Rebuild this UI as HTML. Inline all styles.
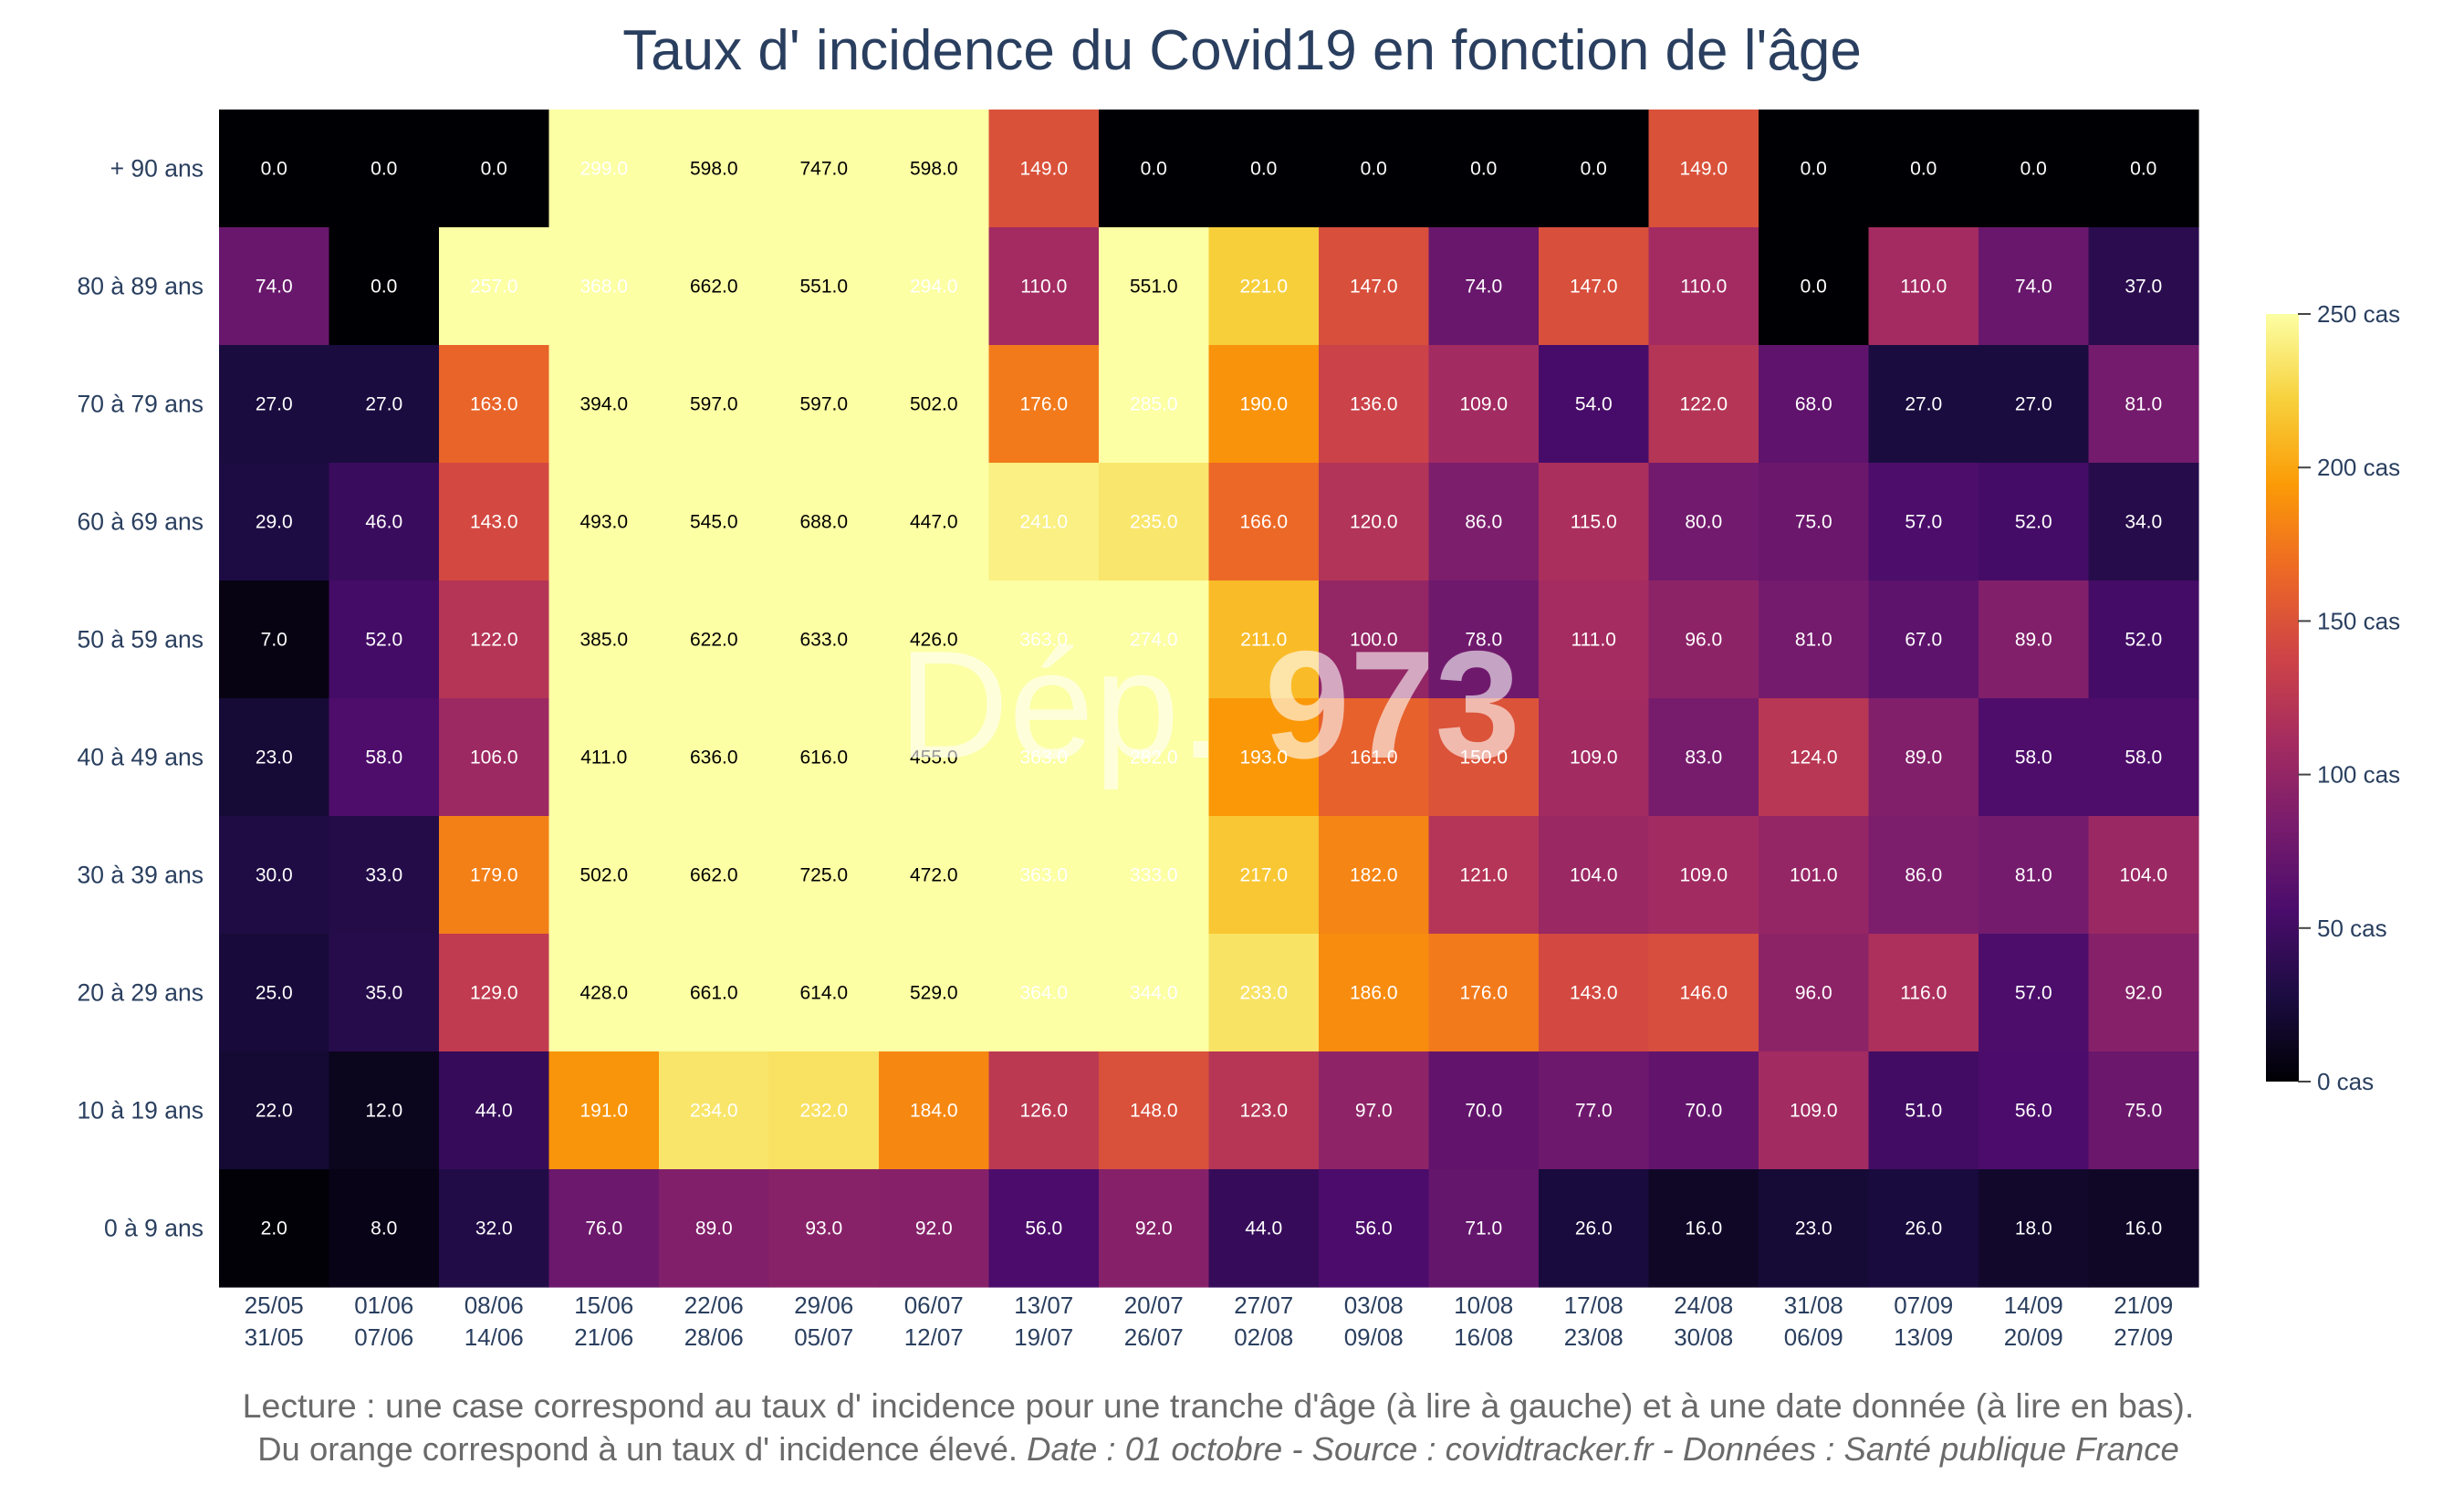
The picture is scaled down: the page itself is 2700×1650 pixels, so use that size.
<!DOCTYPE html>
<html><head><meta charset="utf-8">
<style>
html,body{margin:0;padding:0;background:#fff;}
svg{display:block;font-family:"Liberation Sans","DejaVu Sans",sans-serif;}
</style></head>
<body>
<svg id="chart" width="2700" height="1650" viewBox="0 0 2700 1650" xmlns="http://www.w3.org/2000/svg">
<defs>
<linearGradient id="cbgrad" x1="0" y1="1" x2="0" y2="0">
<stop offset="0" stop-color="#000004"/><stop offset="0.111" stop-color="#1b0c41"/><stop offset="0.222" stop-color="#4a0c6b"/><stop offset="0.333" stop-color="#781c6d"/><stop offset="0.444" stop-color="#a52c60"/><stop offset="0.556" stop-color="#cf4446"/><stop offset="0.667" stop-color="#ed6925"/><stop offset="0.778" stop-color="#fb9b06"/><stop offset="0.889" stop-color="#f7d13d"/><stop offset="1" stop-color="#fcffa4"/>
</linearGradient>
</defs>
<text x="1361" y="76" text-anchor="middle" font-size="62" fill="#2a3f5f">Taux d' incidence du Covid19 en fonction de l'âge</text>
<g id="cells"></g>
<g id="ylabels"></g>
<g id="xlabels"></g>
<text x="1325" y="830" text-anchor="middle" font-size="168" fill="#ffffff" fill-opacity="0.6"><tspan font-weight="normal">Dép. </tspan><tspan font-weight="bold">973</tspan></text>
<g>
<rect x="2483" y="344" width="36" height="841" fill="url(#cbgrad)"/>
<g id="cbticks"></g>
</g>
<text x="1335" y="1553" text-anchor="middle" font-size="37.5" fill="#6a6a6a">Lecture : une case correspond au taux d' incidence pour une tranche d'âge (à lire à gauche) et à une date donnée (à lire en bas).</text>
<text x="1335" y="1600" text-anchor="middle" font-size="36.5" fill="#6a6a6a">Du orange correspond à un taux d' incidence élevé.  <tspan font-style="italic">Date : 01 octobre - Source : covidtracker.fr - Données : Santé publique France</tspan></text>
</svg>
<script>
const ages = ["+ 90 ans","80 à 89 ans","70 à 79 ans","60 à 69 ans","50 à 59 ans","40 à 49 ans","30 à 39 ans","20 à 29 ans","10 à 19 ans","0 à 9 ans"];
const weekStart = ["25/05","01/06","08/06","15/06","22/06","29/06","06/07","13/07","20/07","27/07","03/08","10/08","17/08","24/08","31/08","07/09","14/09","21/09"];
const weekEnd = ["31/05","07/06","14/06","21/06","28/06","05/07","12/07","19/07","26/07","02/08","09/08","16/08","23/08","30/08","06/09","13/09","20/09","27/09"];
const row90 = [0,0,0,299,598,747,598,149,0,0,0,0,0,149,0,0,0,0];
const row80 = [74,0,257,368,662,551,294,110,551,221,147,74,147,110,0,110,74,37];
const row70 = [27,27,163,394,597,597,502,176,285,190,136,109,54,122,68,27,27,81];
const row60 = [29,46,143,493,545,688,447,241,235,166,120,86,115,80,75,57,52,34];
const row50 = [7,52,122,385,622,633,426,363,274,211,100,78,111,96,81,67,89,52];
const row40 = [23,58,106,411,636,616,455,363,282,193,161,150,109,83,124,89,58,58];
const row30 = [30,33,179,502,662,725,472,363,333,217,182,121,104,109,101,86,81,104];
const row20 = [25,35,129,428,661,614,529,364,344,233,186,176,143,146,96,116,57,92];
const row10 = [22,12,44,191,234,232,184,126,148,123,97,70,77,70,109,51,56,75];
const row0 = [2,8,32,76,89,93,92,56,92,44,56,71,26,16,23,26,18,16];
const cbTicks = [0,50,100,150,200,250];

const rows = [row90,row80,row70,row60,row50,row40,row30,row20,row10,row0];
const NS = "http://www.w3.org/2000/svg";
const plot = {x0:240, x1:2409, y0:120, y1:1410};
const zmin = 0, zmax = 250;
const cellW = (plot.x1-plot.x0)/weekStart.length;
const cellH = (plot.y1-plot.y0)/ages.length;
const xPos = i => plot.x0 + i*cellW;
const yPos = j => plot.y0 + j*cellH;
const stops = ["#000004","#1b0c41","#4a0c6b","#781c6d","#a52c60","#cf4446","#ed6925","#fb9b06","#f7d13d","#fcffa4"];
function hex(h){return [1,3,5].map(k=>parseInt(h.substr(k,2),16));}
function color(v){
  let t = Math.max(0,Math.min(1,(v-zmin)/(zmax-zmin)));
  let p = t*(stops.length-1), k = Math.min(stops.length-2, Math.floor(p)), f = p-k;
  let a = hex(stops[k]), b = hex(stops[k+1]);
  return "rgb("+a.map((c,i)=>Math.round(c+(b[i]-c)*f)).join(",")+")";
}
let allVals = rows.flat();
let mid = (Math.min(...allVals)+Math.max(...allVals))/2;
const cells = document.getElementById("cells");
rows.forEach((r,j)=>{
  r.forEach((v,i)=>{
    const rect = document.createElementNS(NS,"rect");
    rect.setAttribute("x", xPos(i)); rect.setAttribute("y", yPos(j));
    rect.setAttribute("width", cellW+0.6); rect.setAttribute("height", cellH+0.6);
    rect.setAttribute("fill", color(v));
    
    
    cells.appendChild(rect);
    const t = document.createElementNS(NS,"text");
    t.setAttribute("x", xPos(i)+cellW/2); t.setAttribute("y", yPos(j)+cellH/2+7);
    t.setAttribute("text-anchor","middle"); t.setAttribute("font-size","21");
    t.setAttribute("fill", v>mid ? "#000000" : "#ffffff");
    t.textContent = v.toFixed(1);
    
    
    cells.appendChild(t);
  });
});
const yl = document.getElementById("ylabels");
ages.forEach((a,j)=>{
  const t = document.createElementNS(NS,"text");
  t.setAttribute("x", 223); t.setAttribute("y", yPos(j)+cellH/2+9);
  t.setAttribute("text-anchor","end"); t.setAttribute("font-size","26.5"); t.setAttribute("fill","#2a3f5f");
  t.textContent = a;
  
  
  yl.appendChild(t);
});
const xl = document.getElementById("xlabels");
weekStart.forEach((w,i)=>{
  const t = document.createElementNS(NS,"text");
  t.setAttribute("x", xPos(i)+cellW/2); t.setAttribute("y", 1439);
  t.setAttribute("text-anchor","middle"); t.setAttribute("font-size","26"); t.setAttribute("fill","#2a3f5f");
  t.textContent = w;
  
  
  xl.appendChild(t);
  const t2 = document.createElementNS(NS,"text");
  t2.setAttribute("x", xPos(i)+cellW/2); t2.setAttribute("y", 1474);
  t2.setAttribute("text-anchor","middle"); t2.setAttribute("font-size","26"); t2.setAttribute("fill","#2a3f5f");
  t2.textContent = weekEnd[i];
  
  
  xl.appendChild(t2);
});
const cb = document.getElementById("cbticks");
const cbY = v => 1185 - (v-zmin)/(zmax-zmin)*(1185-344);
cbTicks.forEach(v=>{
  const l = document.createElementNS(NS,"line");
  l.setAttribute("x1",2518); l.setAttribute("x2",2532); l.setAttribute("y1",cbY(v)); l.setAttribute("y2",cbY(v));
  l.setAttribute("stroke","#444"); l.setAttribute("stroke-width","2");
  
  
  cb.appendChild(l);
  const t = document.createElementNS(NS,"text");
  t.setAttribute("x",2539); t.setAttribute("y",cbY(v)+9);
  t.setAttribute("font-size","26"); t.setAttribute("fill","#2a3f5f");
  t.textContent = v+" cas";
  
  
  cb.appendChild(t);
});
</script>
</body></html>
